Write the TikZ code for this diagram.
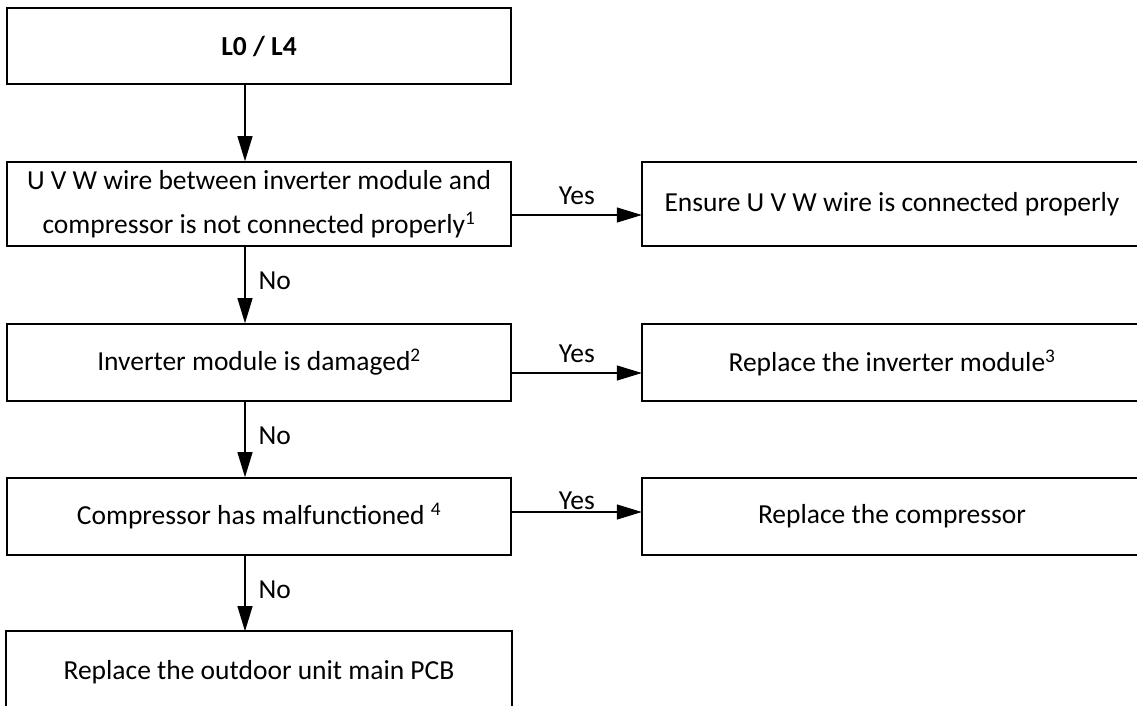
\documentclass[tikz,border=0pt]{standalone}
\usepackage{fontspec}
\setmainfont{Carlito}
\usetikzlibrary{arrows.meta}
\begin{document}
\begin{tikzpicture}[x=1pt,y=-1pt,
  box/.style={draw, line width=1.6pt, inner sep=0pt, anchor=center, align=center,
    font=\fontsize{27.5}{44}\selectfont},
  leftbox/.style={box, minimum width=504pt},
  rightbox/.style={inner sep=0pt, anchor=center, align=center, minimum width=540pt,
    font=\fontsize{27.5}{44}\selectfont},
  edge/.style={line width=1.6pt, line join=miter},
  txt/.style={inner sep=0pt, anchor=center, align=center, font=\fontsize{27.5}{44}\selectfont},
  flow/.style={line width=1.1pt, -{Triangle[length=25pt,width=15pt]}},
  lab/.style={font=\fontsize{27.5}{33}\selectfont, inner sep=0pt}]
\useasboundingbox (0,0) rectangle (1137,705);

% left column
\node[leftbox, minimum height=76pt] (b1) at (259,46) {\bfseries L0 / L4};
\node[leftbox, minimum height=84pt] (b2) at (259,204)
  {U V W wire between inverter module and\\compressor is not connected properly\textsuperscript{1}};
\node[leftbox, minimum height=77pt] (b3) at (259,362.5) {Inverter module is damaged\textsuperscript{2}};
\node[leftbox, minimum height=77pt] (b4) at (259,516.5) {Compressor has malfunctioned \textsuperscript{4}};
% bottom box: its lower edge lies below the picture
\node[leftbox, draw=none, minimum height=80pt] (b5) at (259,672) {Replace the outdoor unit main PCB};
\draw[edge] (b5.south west) -- (b5.north west) -- (b5.north east) -- (b5.south east);

% right column (boxes run past the right edge of the picture)
\node[rightbox, minimum height=84pt] (r1) at (912,204) {};
\node[rightbox, minimum height=77pt] (r2) at (912,362.5) {};
\node[rightbox, minimum height=77pt] (r3) at (912,516.5) {};
\foreach \r in {r1,r2,r3}
  \draw[edge] ([xshift=-45pt]\r.north east) -- (\r.north west) -- (\r.south west) -- ([xshift=-45pt]\r.south east);
\node[txt] (t1) at (892,204) {Ensure U V W wire is connected properly};
\node[txt] (t2) at (892,362.5) {Replace the inverter module\textsuperscript{3}};
\node[txt] (t3) at (892,516.5) {Replace the compressor};

% helper coordinates
\coordinate (ax) at (245,0);
\coordinate (y1) at (0,215);
\coordinate (y2) at (0,373);
\coordinate (y3) at (0,512);

% vertical arrows
\draw[flow] (b1.south -| ax) -- (b2.north -| ax);
\draw[flow] (b2.south -| ax) -- (b3.north -| ax)
  node[lab, midway, anchor=west, xshift=13pt, yshift=4pt] {No};
\draw[flow] (b3.south -| ax) -- (b4.north -| ax)
  node[lab, midway, anchor=west, xshift=13pt, yshift=4pt] {No};
\draw[flow] (b4.south -| ax) -- (b5.north -| ax)
  node[lab, midway, anchor=west, xshift=13pt, yshift=4pt] {No};

% horizontal arrows
\draw[flow] (b2.east |- y1) -- (r1.west |- y1)
  node[lab, midway, anchor=base, yshift=11pt] {Yes};
\draw[flow] (b3.east |- y2) -- (r2.west |- y2)
  node[lab, midway, anchor=base, yshift=11pt] {Yes};
\draw[flow] (b4.east |- y3) -- (r3.west |- y3)
  node[lab, midway, anchor=base, yshift=3pt] {Yes};
\end{tikzpicture}
\end{document}
